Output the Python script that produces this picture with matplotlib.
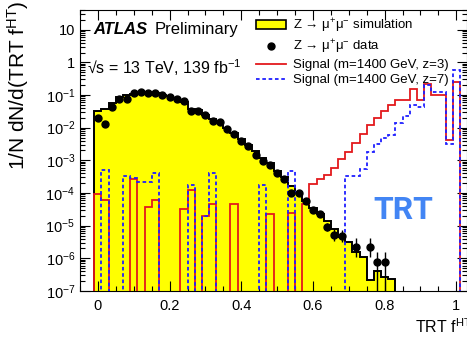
import numpy as np
import matplotlib
matplotlib.use('Agg')
import matplotlib.pyplot as plt
from matplotlib.ticker import FixedLocator, MultipleLocator, FuncFormatter, NullFormatter
from matplotlib.patches import Patch
from matplotlib.lines import Line2D

plt.rcParams['font.family'] = ['Liberation Sans', 'DejaVu Sans']
plt.rcParams['mathtext.fontset'] = 'custom'
plt.rcParams['mathtext.rm'] = 'Liberation Sans'
plt.rcParams['mathtext.it'] = 'Liberation Sans:italic'
plt.rcParams['mathtext.bf'] = 'Liberation Sans:bold'

# bin centres 0, 0.02, ..., 1.00 (width 0.02)
bin_centers = np.round(np.arange(51) * 0.02, 2)

mc_sim = [0.032, 0.036, 0.056, 0.087, 0.098, 0.11, 0.118, 0.118, 0.112, 0.102,
          0.09, 0.077, 0.06, 0.036, 0.034, 0.025, 0.018, 0.014, 0.0095, 0.0068,
          0.0045, 0.003, 0.0019, 0.0012, 0.0008, 0.00048, 0.0003, 0.00016, 0.0001, 5.5e-5,
          3.5e-5, 2.3e-5, 1.4e-5, 8e-6, 4.6e-6, 3.2e-6, 1.6e-6, 1.1e-6, 2.1e-7, 4e-7,
          2.7e-7, 2.3e-7, 0, 0, 0, 0, 0, 0, 0, 0, 0]

sig_z3 = [9.6e-5, 5.9e-5, 0, 0, 0, 2.6e-4, 0, 3.8e-5, 5.9e-5, 0,
          0, 0, 3.3e-5, 1.2e-4, 0, 2e-5, 4.5e-5, 0, 0, 4.5e-5,
          0, 0, 0, 0, 2.3e-5, 0, 0, 2.4e-5, 0, 4.5e-5,
          1.9e-4, 2.6e-4, 3.6e-4, 6e-4, 1.1e-3, 1.85e-3, 3.3e-3, 6.5e-3, 0.012, 0.02,
          0.032, 0.048, 0.068, 0.072, 0.15, 0.072, 0.21, 0.097, 0.1, 0.0042, 0.25]

sig_z7 = [0, 5.2e-4, 0, 0, 3.2e-4, 2.8e-4, 2.2e-4, 2.1e-4, 4e-4, 0,
          0, 0, 0, 1.7e-4, 0, 2e-5, 4e-4, 0, 0, 0,
          0, 0, 0, 1.7e-4, 0, 0, 0, 4.8e-4, 0, 0,
          0, 0, 0, 0, 0, 3.4e-4, 3.4e-4, 5.6e-4, 1.8e-3, 3.2e-3,
          5e-3, 6e-3, 0.014, 0.022, 0.05, 0.042, 0.2, 0.12, 0.125, 0.0031, 0.6]

data_x = [0.00, 0.02, 0.04, 0.06, 0.08, 0.10, 0.12, 0.14, 0.16, 0.18,
          0.20, 0.22, 0.24, 0.26, 0.28, 0.30, 0.32, 0.34, 0.36, 0.38,
          0.40, 0.42, 0.44, 0.46, 0.48, 0.50, 0.52, 0.54, 0.56, 0.58,
          0.60, 0.62, 0.64, 0.66, 0.68, 0.72, 0.76, 0.78, 0.80]
data_y = [0.0195, 0.013, 0.043, 0.076, 0.077, 0.113, 0.122, 0.116, 0.116, 0.10,
          0.087, 0.076, 0.065, 0.033, 0.033, 0.024, 0.016, 0.0148, 0.0088, 0.0065,
          0.004, 0.0028, 0.0015, 0.00093, 0.00072, 0.0004, 0.00026, 0.000103, 0.000097, 5.5e-5,
          3.1e-5, 2.2e-5, 9.3e-6, 5.2e-6, 4.9e-6, 2.3e-6, 2.3e-6, 7.8e-7, 7.8e-7]
data_err_lo = [0] * 31 + [3e-6, 2.2e-6, 1.8e-6, 1.8e-6, 1.2e-6, 1.2e-6, 7e-7, 7e-7]
data_err_hi = [0] * 31 + [3e-6, 2.5e-6, 2.5e-6, 2.5e-6, 1.8e-6, 1.8e-6, 8e-7, 8e-7]

edges = np.round(np.append(bin_centers - 0.01, bin_centers[-1] + 0.01), 3)
floor = 1e-9

fig = plt.figure(figsize=(4.67, 3.39), dpi=100)
ax = fig.add_axes([80 / 467, 48 / 339, 387 / 467, 281 / 339])

mc = np.where(np.array(mc_sim) > 0, mc_sim, floor)
ax.stairs(mc, edges, fill=True, color='#ffff00', baseline=floor, zorder=1)
ax.stairs(mc, edges, color='black', lw=1.4, baseline=floor, zorder=2)
ax.stairs(np.where(np.array(sig_z3) > 0, sig_z3, floor), edges, color='#e3191c',
          lw=1.3, baseline=floor, zorder=3)
ax.stairs(np.where(np.array(sig_z7) > 0, sig_z7, floor), edges, color='#1f1fff',
          lw=1.3, ls=(0, (2, 1.5)), baseline=floor, zorder=4)
ax.errorbar(data_x, data_y, yerr=[data_err_lo, data_err_hi], fmt='o', color='black',
            ms=5, elinewidth=1, capsize=0, zorder=5)

ax.set_yscale('log')
ax.set_ylim(1e-7, 40)
ax.set_xlim(-0.05, 1.03)

ax.yaxis.set_major_locator(FixedLocator([10.0 ** k for k in range(-7, 2)]))
ax.yaxis.set_major_formatter(FuncFormatter(
    lambda v, p: '%d' % round(v) if v >= 1 else r'$10^{%d}$' % round(np.log10(v))))
ax.yaxis.set_minor_locator(matplotlib.ticker.LogLocator(base=10, subs=np.arange(2, 10), numticks=30))
ax.yaxis.set_minor_formatter(NullFormatter())
ax.xaxis.set_major_locator(FixedLocator([0, 0.2, 0.4, 0.6, 0.8, 1.0]))
ax.xaxis.set_major_formatter(FuncFormatter(lambda v, p: '%g' % round(v, 1)))
ax.xaxis.set_minor_locator(MultipleLocator(0.05))
ax.tick_params(which='both', direction='in', top=True, right=True, labelsize=10.5)
ax.tick_params(which='major', length=7, width=0.8)
ax.tick_params(which='minor', length=3.5, width=0.8)
ax.tick_params(axis='x', pad=6)

ax.text(0.034, 0.929, 'ATLAS', transform=ax.transAxes, fontsize=12,
        fontweight='bold', fontstyle='italic', va='center')
ax.text(0.194, 0.929, 'Preliminary', transform=ax.transAxes, fontsize=12, va='center')
ax.text(0.018, 0.794, '√s = 13 TeV, 139 fb$^{-1}$', transform=ax.transAxes,
        fontsize=11.5, va='center')
ax.text(0.835, 0.288, 'TRT', transform=ax.transAxes, fontsize=23, fontweight='bold',
        family=['Roboto', 'DejaVu Sans'], color='#4285f4', ha='center', va='center')

fig.text(18 / 467, 1 - 1 / 339, r'1/N dN/d(TRT f$^{\mathrm{HT}}$)', rotation=90,
         ha='center', va='top', fontsize=15)
fig.text(415 / 467, 1 - 327 / 339, r'TRT f$^{\mathrm{HT}}$', ha='left', va='center',
         fontsize=11.5)

handles = [Patch(facecolor='#ffff00', edgecolor='black', lw=1.2),
           Line2D([], [], marker='o', color='black', ls='none', ms=5),
           Line2D([], [], color='#e3191c', lw=1.3),
           Line2D([], [], color='#1f1fff', lw=1.3, ls=(0, (2, 1.5)))]
labels = ['Z → μ$^{+}$μ$^{-}$ simulation', 'Z → μ$^{+}$μ$^{-}$ data',
          'Signal (m=1400 GeV, z=3)', 'Signal (m=1400 GeV, z=7)']
fig.legend(handles, labels, loc='upper left', bbox_to_anchor=(256 / 467, 1 - 17 / 339),
           frameon=False, fontsize=9.5, handlelength=2.3, handletextpad=0.5,
           labelspacing=0.22, borderpad=0, borderaxespad=0)

fig.savefig('out.png', dpi=100)
